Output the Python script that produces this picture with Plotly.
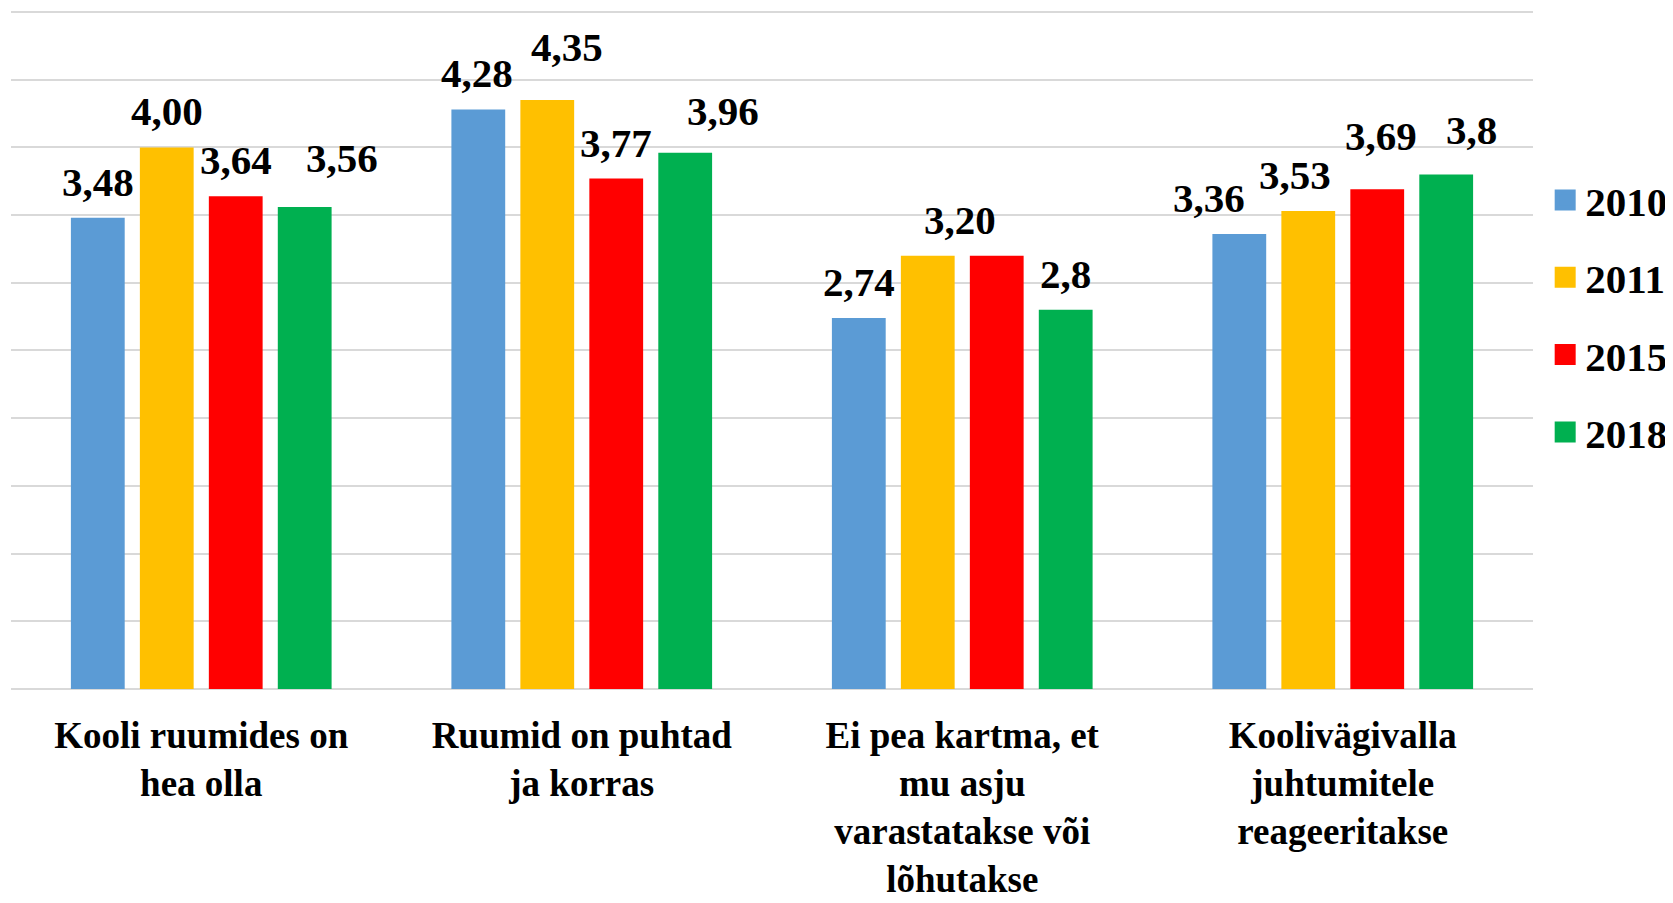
import plotly.graph_objects as go

categories = [
    "Kooli ruumides on<br>hea olla",
    "Ruumid on puhtad<br>ja korras",
    "Ei pea kartma, et<br>mu asju<br>varastatakse või<br>lõhutakse",
    "Koolivägivalla<br>juhtumitele<br>reageeritakse",
]
series_names = ["2010", "2011", "2015", "2018"]
values_2010 = [3.48, 4.28, 2.74, 3.36]
values_2011 = [4.00, 4.35, 3.20, 3.53]
values_2015 = [3.64, 3.77, 3.20, 3.69]
values_2018 = [3.56, 3.96, 2.8, 3.8]
labels_2010 = ["3,48", "4,28", "2,74", "3,36"]
labels_2011 = ["4,00", "4,35", "3,20", "3,53"]
labels_2015 = ["3,64", "3,77", "", "3,69"]
labels_2018 = ["3,56", "3,96", "2,8", "3,8"]

# label nudges (pixels) as placed in the original
nudge_x = [[0, -1, 0, -30], [0, 20, 32, -13], [0, 0, 0, 4], [37, 38, 0, 25]]
nudge_y = [[0, 0, 0, 0], [0, 17, 0, 0], [0, 0, 0, 17], [13, 6, 0, 8]]

colors = ["#5B9BD5", "#FFC000", "#FF0000", "#00B050"]
all_values = [values_2010, values_2011, values_2015, values_2018]
all_labels = [labels_2010, labels_2011, labels_2015, labels_2018]

FONT = "'Liberation Serif', 'Times New Roman', Times, serif"
bargap = 0.275
bargroupgap = 0.22

fig = go.Figure()
for name, vals, col in zip(series_names, all_values, colors):
    fig.add_trace(go.Bar(name=name, x=categories, y=vals, marker=dict(color=col, line=dict(width=0)),
                         showlegend=False))
# legend entries
for i, (name, col) in enumerate(zip(series_names, colors)):
    fig.add_trace(go.Scatter(name="<b>" + name + "</b>", x=[None], y=[None], mode="markers",
                             marker=dict(symbol="square", size=16, color=col, line=dict(width=5, color=col)),
                             legendgroup=name, showlegend=True))

n = len(series_names)
slot = (1 - bargap) / n
annotations = []
for i in range(n):
    for k in range(len(categories)):
        txt = all_labels[i][k]
        if not txt:
            continue
        annotations.append(dict(
            x=k + (i - (n - 1) / 2) * slot, y=all_values[i][k], xref="x", yref="y",
            text="<b>" + txt + "</b>", showarrow=False, yanchor="bottom", xanchor="center",
            xshift=nudge_x[i][k], yshift=11 + nudge_y[i][k],
            font=dict(family=FONT, size=41, color="black"),
        ))

fig.update_layout(
    width=1665, height=895,
    margin=dict(l=3, r=140, t=1, b=214, autoexpand=False),
    paper_bgcolor="white", plot_bgcolor="white",
    barmode="group", bargap=bargap, bargroupgap=bargroupgap,
    annotations=annotations,
    font=dict(family=FONT, color="black"),
    legend=dict(x=1.008, xanchor="left", y=0.548, yanchor="middle",
                font=dict(family=FONT, size=41, color="black"),
                tracegroupgap=21, bgcolor="rgba(0,0,0,0)"),
    xaxis=dict(type="category", showgrid=False, showline=False, ticks="", automargin=False,
               tickvals=categories, ticktext=["<b>" + c.replace("<br>", "</b><br><b>") + "</b>" for c in categories],
               tickfont=dict(family=FONT, size=37, color="black"),
               ticklabelstandoff=21),
    yaxis=dict(range=[0, 5.022], dtick=0.5, showticklabels=False, showgrid=True, automargin=False,
               gridcolor="#D9D9D9", gridwidth=2, zeroline=True, zerolinecolor="#D9D9D9",
               zerolinewidth=2, showline=False, ticks=""),
)

fig.write_html("out.html")
